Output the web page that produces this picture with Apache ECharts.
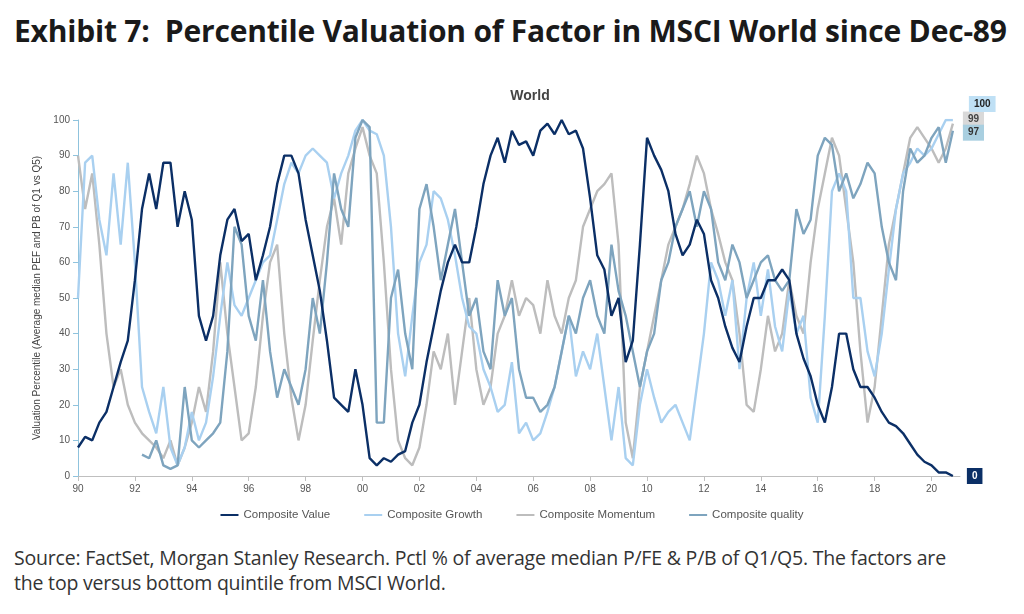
<!DOCTYPE html>
<html lang="en">
<head>
    <meta charset="UTF-8"/>
    <title>Exhibit 7</title>
    <script src="https://cdn.jsdelivr.net/npm/echarts@6/dist/echarts.min.js"></script>
    <style>
        body { margin: 0; background: #fff; font-family: "Open Sans", "Liberation Sans", sans-serif; }
        #head { position: absolute; left: 14px; top: 10px; font: bold 30px "Open Sans", sans-serif; color: #1a1a1a; letter-spacing: -0.2px; }
        #src { position: absolute; left: 14px; top: 545px; font: 19.5px "Open Sans", sans-serif; color: #333; line-height: 25px; letter-spacing: -0.2px; }
    </style>
</head>
<body>
<div id="head">Exhibit 7:&nbsp; Percentile Valuation of Factor in MSCI World since Dec-89</div>
<div id="main" style="width:1024px;height:540px;position:absolute;top:0;left:0"></div>
<div id="src">Source: FactSet, Morgan Stanley Research. Pctl % of average median P/FE &amp; P/B of Q1/Q5. The factors are<br/>the top versus bottom quintile from MSCI World.</div>

<script type="text/javascript">
    // quarterly readings, 1990 Q1 .. 2020 Q4
    var startYear = 1990;
    var valueSeries = [
        8, 11, 10, 15,   18, 25, 32, 38,   55, 75, 85, 75,   88, 88, 70, 80,
        72, 45, 38, 45,  62, 72, 75, 66,   68, 55, 62, 70,   82, 90, 90, 85,
        72, 62, 52, 38,  22, 20, 18, 30,   20, 5, 3, 5,      4, 6, 7, 15,
        20, 32, 42, 52,  60, 65, 60, 60,   70, 82, 90, 95,   88, 97, 93, 94,
        90, 97, 99, 96,  100, 96, 97, 92,  78, 62, 58, 45,   50, 32, 38, 65,
        95, 90, 86, 80,  68, 62, 65, 72,   68, 55, 50, 42,   36, 32, 42, 50,
        50, 55, 55, 58,  55, 40, 33, 28,   20, 15, 25, 40,   40, 30, 25, 25,
        22, 18, 15, 14,  12, 9, 6, 4,      3, 1, 1, 0
    ];
    var growthSeries = [
        50, 88, 90, 72,  62, 85, 65, 88,   60, 25, 18, 12,   25, 8, 3, 8,
        18, 10, 15, 28,  45, 60, 48, 45,   50, 55, 60, 62,   72, 82, 88, 85,
        90, 92, 90, 88,  78, 85, 90, 97,   100, 97, 96, 90,  70, 40, 28, 45,
        60, 65, 80, 78,  72, 62, 50, 42,   40, 30, 25, 18,   20, 32, 12, 15,
        10, 12, 18, 25,  35, 45, 28, 35,   30, 40, 25, 10,   25, 5, 3, 20,
        30, 22, 15, 18,  20, 15, 10, 25,   40, 60, 55, 45,   55, 30, 50, 60,
        45, 58, 42, 35,  52, 40, 45, 22,   15, 45, 80, 85,   80, 50, 50, 35,
        28, 40, 58, 75,  85, 88, 92, 90,   92, 96, 100, 100
    ];
    var momentumSeries = [
        90, 75, 85, 65,  40, 25, 30, 20,   15, 12, 10, 8,    5, 10, 3, 8,
        15, 25, 18, 35,  60, 40, 25, 10,   12, 25, 45, 60,   65, 40, 22, 10,
        20, 38, 55, 70,  78, 65, 85, 92,   98, 90, 85, 60,   30, 10, 5, 3,
        8, 20, 35, 30,   40, 20, 35, 50,   30, 20, 25, 40,   45, 55, 45, 50,
        48, 40, 55, 45,  40, 50, 55, 70,   75, 80, 82, 85,   65, 15, 5, 25,
        35, 45, 55, 65,  70, 75, 82, 90,   85, 75, 68, 60,   55, 40, 20, 18,
        30, 45, 35, 40,  55, 45, 40, 60,   75, 85, 95, 90,   75, 60, 35, 15,
        25, 45, 65, 75,  85, 95, 98, 95,   92, 88, 92, 99
    ];
    var qualitySeries = [
        null, null, null, null,  null, null, null, null,  null, 6, 5, 10,  3, 2, 3, 25,
        10, 8, 10, 12,   15, 35, 70, 65,   45, 38, 55, 35,   22, 30, 25, 20,
        30, 50, 40, 60,  85, 75, 70, 95,   100, 98, 15, 15,  50, 58, 40, 30,
        75, 82, 70, 55,  65, 75, 60, 45,   50, 35, 30, 55,   45, 50, 30, 22,
        22, 18, 20, 25,  35, 45, 40, 50,   55, 45, 40, 65,   52, 45, 35, 25,
        35, 40, 55, 60,  70, 75, 80, 70,   80, 75, 60, 55,   65, 60, 50, 55,
        60, 62, 55, 52,  55, 75, 68, 72,   90, 95, 93, 80,   85, 78, 82, 88,
        85, 70, 60, 55,  80, 92, 88, 90,   95, 98, 88, 97
    ];
    var seriesNames = ['Composite Value', 'Composite Growth', 'Composite Momentum', 'Composite quality'];
    var seriesColors = ['#0b2f66', '#a9d0f0', '#bdbdbd', '#7ea4be'];
    var endLabelBg = ['#0b2f66', '#bfe0f5', '#d9d9d9', '#a9cfe0'];
    var endLabelText = ['#fff', '#222', '#444', '#333'];
    var endLabelOffset = [[6, 0], [8, -16], [2, -4], [2, 2]];

    function pairs(arr) {
        var out = [];
        for (var i = 0; i < arr.length; i++) out.push([startYear + i / 4, arr[i]]);
        return out;
    }

    var allData = [valueSeries, growthSeries, momentumSeries, qualitySeries];
    var drawOrder = [2, 1, 3, 0];
    var series = drawOrder.map(function (k) {
        return {
            name: seriesNames[k],
            type: 'line',
            data: pairs(allData[k]),
            showSymbol: false,
            connectNulls: false,
            z: k === 0 ? 5 : 2,
            lineStyle: { width: 2.4, color: seriesColors[k] },
            itemStyle: { color: seriesColors[k] },
            endLabel: {
                show: true,
                formatter: function (p) { return p.value[1]; },
                backgroundColor: endLabelBg[k],
                color: endLabelText[k],
                fontSize: 10, fontWeight: 'bold',
                padding: [3, 5],
                offset: endLabelOffset[k]
            }
        };
    });
    var myChart = echarts.init(document.getElementById('main'));
    var option = {
        animation: false,
        title: {
            text: 'World', left: 525, top: 84, textAlign: 'center',
            textStyle: { fontSize: 14, fontWeight: 'bold', color: '#444' }
        },
        legend: {
            data: seriesNames, bottom: 14, left: 'center', itemGap: 34,
            icon: 'rect', itemWidth: 18, itemHeight: 2,
            textStyle: { fontSize: 11.5, color: '#555' }
        },
        grid: { left: 78, right: 64, top: 120, bottom: 64 },
        xAxis: {
            type: 'value', min: 1990, max: 2021, interval: 2,
            splitLine: { show: false },
            axisLine: { lineStyle: { color: '#bfbfbf' } },
            axisTick: { show: true, lineStyle: { color: '#bfbfbf' } },
            axisLabel: {
                fontSize: 10, color: '#555', showMaxLabel: false,
                formatter: function (v) { var s = String(v % 100); return s.length < 2 ? '0' + s : s; }
            }
        },
        yAxis: {
            type: 'value', min: 0, max: 100, interval: 10,
            name: 'Valuation Percentile (Average median PEF and PB of Q1 vs Q5)',
            nameLocation: 'middle', nameGap: 34,
            nameTextStyle: { fontSize: 10, color: '#444' },
            splitLine: { show: false },
            axisLine: { show: true, lineStyle: { color: '#8fc3dd' } },
            axisTick: { show: true, lineStyle: { color: '#8fc3dd' } },
            axisLabel: { fontSize: 10, color: '#555' }
        },
        series: series
    };
    myChart.setOption(option);
</script>
</body>
</html>
